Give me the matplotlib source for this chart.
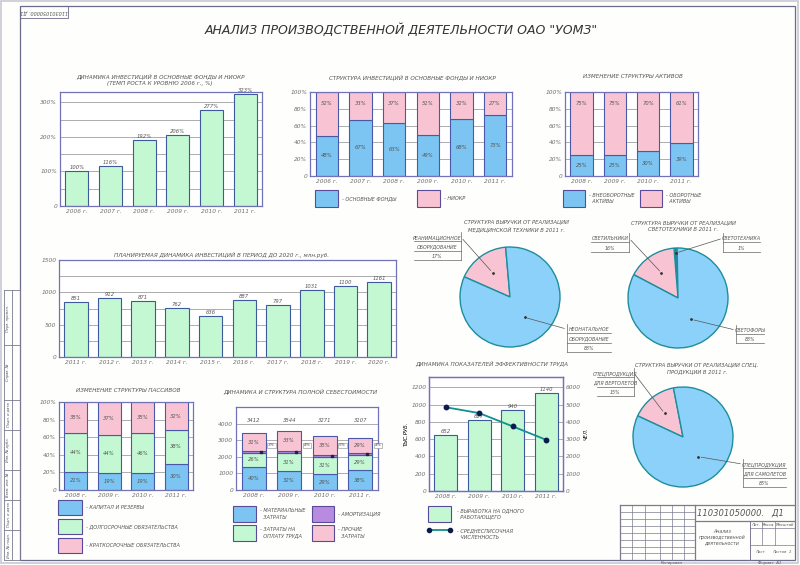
import numpy as np
import matplotlib
matplotlib.use("Agg")
import matplotlib.pyplot as plt
from matplotlib.patches import Rectangle

# ----------------------------
# Data (read from the poster)
# ----------------------------
inv_years = ['2006 г.', '2007 г.', '2008 г.', '2009 г.', '2010 г.', '2011 г.']
inv_growth = [100, 116, 192, 206, 277, 323]

fixed_share = [48, 67, 63, 49, 68, 73]
rnd_share = [52, 33, 37, 51, 32, 27]

asset_years = ['2008 г.', '2009 г.', '2010 г.', '2011 г.']
noncur_assets = [25, 25, 30, 39]
cur_assets = [75, 75, 70, 61]

plan_years = ['2011 г.', '2012 г.', '2013 г.', '2014 г.', '2015 г.',
              '2016 г.', '2017 г.', '2018 г.', '2019 г.', '2020 г.']
plan_invest = [851, 912, 871, 762, 636, 887, 797, 1031, 1100, 1161]

equity = [21, 19, 19, 30]
long_liab = [44, 44, 46, 38]
short_liab = [35, 37, 35, 32]

cost_total = [3412, 3544, 3271, 3107]
cost_mat = [40, 32, 29, 38]
cost_labor = [26, 31, 31, 29]
cost_amort = [3, 4, 5, 4]
cost_other = [31, 33, 35, 29]

output_per_worker = [652, 817, 940, 1140]
headcount = [4850, 4510, 3740, 2960]

med_labels = [['РЕАНИМАЦИОННОЕ', 'ОБОРУДОВАНИЕ'], ['НЕОНАТАЛЬНОЕ', 'ОБОРУДОВАНИЕ']]
med_share = [17, 83]
light_labels = [['СВЕТОТЕХНИКА'], ['СВЕТИЛЬНИКИ'], ['СВЕТОФОРЫ']]
light_share = [1, 16, 83]
spec_labels = [['СПЕЦПРОДУКЦИЯ', 'ДЛЯ ВЕРТОЛЕТОВ'], ['СПЕЦПРОДУКЦИЯ', 'ДЛЯ САМОЛЕТОВ']]
spec_share = [15, 85]

# ----------------------------
# Style
# ----------------------------
W, H = 800, 565
GREEN = '#c3f8d3'
BLUE = '#7cc5f2'
PINK = '#f8c4d4'
PURPLE = '#b98be0'
PIE_BLUE = '#8bd1f9'
PIE_EDGE = '#1d8e9c'
BAR_EDGE = '#3d5a9a'
SPINE = '#7272b8'
TXT = '#555555'

plt.rcParams['font.family'] = ['DejaVu Sans']
plt.rcParams['font.style'] = 'italic'
plt.rcParams['text.color'] = TXT


def box(x0, y0, x1, y1):
    return [x0 / W, 1 - y1 / H, (x1 - x0) / W, (y1 - y0) / H]


def style_axes(ax, ymax, step, label_every, fmt):
    ax.set_ylim(0, ymax)
    ticks = np.arange(0, ymax + 0.01, step)
    ax.set_yticks(ticks)
    labels = []
    for t in ticks:
        if t == 0:
            labels.append('0')
        elif round(t) % label_every == 0:
            labels.append(fmt.format(t))
        else:
            labels.append('')
    ax.set_yticklabels(labels)
    ax.grid(axis='y', color='#a0a0a0', lw=0.6)
    ax.set_axisbelow(True)
    for s in ax.spines.values():
        s.set_color(SPINE)
        s.set_linewidth(0.9)
    ax.tick_params(length=0, labelsize=4.2, colors='#707070', pad=2)


fig = plt.figure(figsize=(8, 5.65), dpi=100)
fig.patch.set_facecolor('#fefefc')

ov = fig.add_axes([0, 0, 1, 1])
ov.set_xlim(0, W)
ov.set_ylim(H, 0)
ov.axis('off')


def frame_line(x, y, lw=0.6, color='#7a7a90'):
    ov.plot(x, y, color=color, lw=lw)


def legend_box(x0, y0, x1, y1, color, text, tx=None):
    ov.add_patch(Rectangle((x0, y0), x1 - x0, y1 - y0, facecolor=color,
                           edgecolor='#5a4a9a', lw=0.8))
    if text:
        ov.text(x1 + 4 if tx is None else tx, (y0 + y1) / 2, text, fontsize=3.6,
                va='center', ha='left', linespacing=1.3)


def title(x, y, text, size=4.1):
    ov.text(x, y, text, fontsize=size, ha='center', va='center', linespacing=1.4)


# page + drawing frame
ov.add_patch(Rectangle((1, 1), 797, 562, fill=False, edgecolor='#c8c8d2', lw=1.2))
ov.add_patch(Rectangle((20, 6), 775, 554, fill=False, edgecolor='#6a6a8a', lw=0.9))
ov.add_patch(Rectangle((20, 6), 48, 12, fill=False, edgecolor='#6a6a8a', lw=0.6))
ov.text(44, 12, '110301050000. Д1', fontsize=3.6, ha='center', va='center', rotation=180)

# left stamp strip
for x in (4, 12, 20):
    frame_line([x, x], [290, 560])
for y in (290, 345, 400, 430, 470, 500, 530, 560):
    frame_line([4, 20], [y, y])
for y, s in ((318, 'Перв. примен.'), (372, 'Справ. №'), (415, 'Подп. и дата'),
             (450, 'Инв. № дубл.'), (485, 'Взам. инв. №'), (515, 'Подп. и дата'),
             (545, 'Инв. № подл.')):
    ov.text(8, y, s, fontsize=2.6, rotation=90, ha='center', va='center')

# title block
frame_line([620, 795], [505, 505], lw=0.9)
frame_line([620, 620], [505, 560], lw=0.9)
frame_line([695, 695], [505, 560], lw=0.9)
frame_line([695, 795], [521, 521], lw=0.9)
for y in (512, 519, 526, 533, 540, 547, 553):
    frame_line([620, 695], [y, y], lw=0.5)
for x in (632, 645, 660, 672, 684):
    frame_line([x, x], [505, 560], lw=0.5)
frame_line([750, 750], [521, 560], lw=0.7)
frame_line([750, 795], [528, 528], lw=0.5)
frame_line([750, 795], [545, 545], lw=0.5)
frame_line([762, 762], [521, 545], lw=0.5)
frame_line([775, 775], [521, 545], lw=0.5)
ov.text(740, 513, '110301050000.   Д1', fontsize=6, ha='center', va='center')
ov.text(722, 537, 'Анализ\nпроизводственной\nдеятельности', fontsize=3.4,
        ha='center', va='center', linespacing=1.2)
ov.text(756, 524.5, 'Лит.', fontsize=2.8, ha='center', va='center')
ov.text(768, 524.5, 'Масса', fontsize=2.8, ha='center', va='center')
ov.text(785, 524.5, 'Масштаб', fontsize=2.8, ha='center', va='center')
ov.text(760, 552, 'Лист', fontsize=2.8, ha='center', va='center')
ov.text(782, 552, 'Листов  1', fontsize=2.8, ha='center', va='center')
ov.text(672, 563, 'Копировал', fontsize=2.8, ha='center', va='center')
ov.text(770, 563, 'Формат  A1', fontsize=2.8, ha='center', va='center')

# main title
ov.text(401, 30, 'АНАЛИЗ ПРОИЗВОДСТВЕННОЙ ДЕЯТЕЛЬНОСТИ ОАО "УОМЗ"', fontsize=9,
        ha='center', va='center', color='#333333')

# ----------------------------
# 1. Investment growth
# ----------------------------
ax = fig.add_axes(box(60, 92, 262, 206))
x = np.arange(len(inv_years))
ax.bar(x, inv_growth, width=0.68, color=GREEN, edgecolor=BAR_EDGE, lw=0.8)
for xi, v in zip(x, inv_growth):
    ax.text(xi, v + 3, f'{v}%', ha='center', va='bottom', fontsize=3.8)
ax.set_xlim(-0.5, len(x) - 0.5)
ax.set_xticks(x, inv_years)
style_axes(ax, 330, 50, 100, '{:.0f}%')
title(160, 80, 'ДИНАМИКА ИНВЕСТИЦИЙ В ОСНОВНЫЕ ФОНДЫ И НИОКР\n(ТЕМП РОСТА К УРОВНЮ 2006 г., %)')

# ----------------------------
# 2. Investment structure
# ----------------------------
ax = fig.add_axes(box(310, 92, 512, 176))
ax.bar(x, fixed_share, width=0.66, color=BLUE, edgecolor='#4a58a8', lw=0.8)
ax.bar(x, rnd_share, width=0.66, bottom=fixed_share, color=PINK, edgecolor='#4a58a8', lw=0.8)
for xi, a, b in zip(x, fixed_share, rnd_share):
    ax.text(xi, a / 2, f'{a}%', ha='center', va='center', fontsize=3.8)
    ax.text(xi, 86, f'{b}%', ha='center', va='center', fontsize=3.8)
ax.set_xlim(-0.5, len(x) - 0.5)
ax.set_xticks(x, inv_years)
style_axes(ax, 100, 20, 20, '{:.0f}%')
title(412, 77, 'СТРУКТУРА ИНВЕСТИЦИЙ В ОСНОВНЫЕ ФОНДЫ И НИОКР')
legend_box(315, 190, 338, 207, BLUE, '- ОСНОВНЫЕ ФОНДЫ')
legend_box(417, 190, 440, 207, PINK, '- НИОКР')

# ----------------------------
# 3. Assets structure
# ----------------------------
ax = fig.add_axes(box(565, 92, 698, 176))
x4 = np.arange(len(asset_years))
ax.bar(x4, noncur_assets, width=0.68, color=BLUE, edgecolor='#4a58a8', lw=0.8)
ax.bar(x4, cur_assets, width=0.68, bottom=noncur_assets, color=PINK, edgecolor='#4a58a8', lw=0.8)
for xi, a, b in zip(x4, noncur_assets, cur_assets):
    ax.text(xi, a / 2, f'{a}%', ha='center', va='center', fontsize=3.8)
    ax.text(xi, 86, f'{b}%', ha='center', va='center', fontsize=3.8)
ax.set_xlim(-0.5, len(x4) - 0.5)
ax.set_xticks(x4, asset_years)
style_axes(ax, 100, 20, 20, '{:.0f}%')
title(633, 77, 'ИЗМЕНЕНИЕ СТРУКТУРЫ АКТИВОВ')
legend_box(563, 190, 585, 207, BLUE, '- ВНЕОБОРОТНЫЕ\n  АКТИВЫ')
legend_box(640, 190, 662, 207, PINK, '- ОБОРОТНЫЕ\n  АКТИВЫ')

# ----------------------------
# 4. Planned investment
# ----------------------------
ax = fig.add_axes(box(59, 260, 396, 357))
x10 = np.arange(len(plan_years))
ax.bar(x10, plan_invest, width=0.7, color=GREEN, edgecolor=BAR_EDGE, lw=0.8)
for xi, v in zip(x10, plan_invest):
    ax.text(xi, v + 15, f'{v}', ha='center', va='bottom', fontsize=3.8)
ax.set_xlim(-0.5, len(x10) - 0.5)
ax.set_xticks(x10, plan_years)
style_axes(ax, 1500, 250, 500, '{:.0f}')
title(222, 255, 'ПЛАНИРУЕМАЯ ДИНАМИКА ИНВЕСТИЦИЙ В ПЕРИОД ДО 2020 г., млн.руб.')

# ----------------------------
# 5. Liabilities structure
# ----------------------------
ax = fig.add_axes(box(59, 402, 193, 490))
lb = np.array(equity) + np.array(long_liab)
ax.bar(x4, equity, width=0.7, color=BLUE, edgecolor='#4a58a8', lw=0.8)
ax.bar(x4, long_liab, width=0.7, bottom=equity, color=GREEN, edgecolor='#4a58a8', lw=0.8)
ax.bar(x4, short_liab, width=0.7, bottom=lb, color=PINK, edgecolor='#4a58a8', lw=0.8)
for xi, a, b, c, base in zip(x4, equity, long_liab, short_liab, lb):
    ax.text(xi, a / 2, f'{a}%', ha='center', va='center', fontsize=3.8)
    ax.text(xi, a + b / 2, f'{b}%', ha='center', va='center', fontsize=3.8)
    ax.text(xi, base + c / 2, f'{c}%', ha='center', va='center', fontsize=3.8)
ax.set_xlim(-0.5, len(x4) - 0.5)
ax.set_xticks(x4, asset_years)
style_axes(ax, 100, 20, 20, '{:.0f}%')
title(128, 391, 'ИЗМЕНЕНИЕ СТРУКТУРЫ ПАССИВОВ')
legend_box(58, 500, 82, 515, BLUE, '- КАПИТАЛ И РЕЗЕРВЫ')
legend_box(58, 519, 82, 534, GREEN, '- ДОЛГОСРОЧНЫЕ ОБЯЗАТЕЛЬСТВА')
legend_box(58, 538, 82, 553, PINK, '- КРАТКОСРОЧНЫЕ ОБЯЗАТЕЛЬСТВА')

# ----------------------------
# 6. Cost structure
# ----------------------------
ax = fig.add_axes(box(236, 407, 378, 490))
tot = np.array(cost_total, dtype=float)
parts = [(cost_mat, BLUE), (cost_labor, GREEN), (cost_amort, PURPLE), (cost_other, PINK)]
bottom = np.zeros(4)
for share, col in parts:
    h = tot * np.array(share) / 100
    ax.bar(x4, h, width=0.68, bottom=bottom, color=col, edgecolor='#4a58a8', lw=0.8)
    if share is not cost_amort:
        for xi, s, b0, hh in zip(x4, share, bottom, h):
            ax.text(xi, b0 + hh / 2, f'{s}%', ha='center', va='center', fontsize=3.8)
    else:
        for xi, s, b0, hh in zip(x4, share, bottom, h):
            ax.plot(xi + 0.2, b0 + hh / 2, 's', ms=1.5, color='#222244')
            ax.text(xi + 0.5, 2700, f'{s}%', ha='center', va='center', fontsize=3.2,
                    bbox=dict(boxstyle='square,pad=0.15', fc='white', ec='#888888', lw=0.4))
    bottom += h
for xi, t in zip(x4, cost_total):
    ax.text(xi, 4180, f'{t}', ha='center', va='center', fontsize=3.8)
ax.set_xlim(-0.5, len(x4) - 0.5)
ax.set_xticks(x4, asset_years)
style_axes(ax, 5000, 1000, 1000, '{:.0f}')
ax.set_yticks([0, 1000, 2000, 3000, 4000], ['0', '1000', '2000', '3000', '4000'])
title(300, 391, 'ДИНАМИКА И СТРУКТУРА ПОЛНОЙ СЕБЕСТОИМОСТИ')
legend_box(233, 506, 256, 522, BLUE, '- МАТЕРИАЛЬНЫЕ\n  ЗАТРАТЫ')
legend_box(233, 525, 256, 541, GREEN, '- ЗАТРАТЫ НА\n  ОПЛАТУ ТРУДА')
legend_box(312, 506, 334, 522, PURPLE, '- АМОРТИЗАЦИЯ')
legend_box(312, 525, 334, 541, PINK, '- ПРОЧИЕ\n  ЗАТРАТЫ')

# ----------------------------
# 7. Labour efficiency
# ----------------------------
ax = fig.add_axes(box(429, 377, 563, 491))
ax.bar(x4, output_per_worker, width=0.7, color=GREEN, edgecolor=BAR_EDGE, lw=0.8)
for xi, v in zip(x4, output_per_worker):
    ax.text(xi, v + 12, f'{v}', ha='center', va='bottom', fontsize=3.8)
ax.set_xlim(-0.5, len(x4) - 0.5)
ax.set_xticks(x4, asset_years)
style_axes(ax, 1320, 200, 200, '{:.0f}')
ax.set_yticks(np.arange(0, 1201, 200))
ax.set_ylabel('ТЫС.РУБ.', fontsize=3.8, labelpad=2)
ax2 = ax.twinx()
ax2.plot(x4, headcount, color='#119090', lw=1.3, marker='o', ms=3.2,
         mfc='#0c1a4e', mec='#0c1a4e')
ax2.set_ylim(0, 6600)
ax2.set_yticks(np.arange(0, 6001, 1000))
ax2.tick_params(length=0, labelsize=4.2, colors='#707070', pad=2)
for s in ax2.spines.values():
    s.set_color(SPINE)
    s.set_linewidth(0.9)
ax2.set_ylabel('ЧЕЛ.', fontsize=3.8, labelpad=2)
title(492, 363, 'ДИНАМИКА ПОКАЗАТЕЛЕЙ ЭФФЕКТИВНОСТИ ТРУДА')
legend_box(428, 506, 451, 522, GREEN, '- ВЫРАБОТКА НА ОДНОГО\n  РАБОТАЮЩЕГО', tx=457)
ov.plot([429, 450], [530, 530], color='#119090', lw=1.3)
ov.plot([429, 450], [530, 530], 'o', ms=3, color='#0c1a4e')
ov.text(457, 534, '- СРЕДНЕСПИСОЧНАЯ\n  ЧИСЛЕННОСТЬ', fontsize=3.6, va='center', linespacing=1.3)

# ----------------------------
# Pie charts
# ----------------------------
def callout(ax, lines, x0, x1, y_top, side, target):
    step = 0.19
    for k, s in enumerate(lines):
        y = y_top - k * step
        ax.text((x0 + x1) / 2, y + 0.02, s, ha='center', va='bottom', fontsize=3.4)
        ax.plot([x0, x1], [y, y], color='#666666', lw=0.5, clip_on=False)
    xv = x1 if side == 'right' else x0
    ax.plot([xv, xv], [y_top + step * 0.9, y_top - (len(lines) - 1) * step],
            color='#666666', lw=0.5, clip_on=False)
    ax.annotate('', xy=target, xytext=(xv, y_top + step * 0.4),
                arrowprops=dict(arrowstyle='-', lw=0.5, color='#555555'))
    ax.plot(*target, 'o', ms=1, color='#333333')


def wedge_point(w, frac):
    th = np.deg2rad((w.theta1 + w.theta2) / 2)
    return (frac * np.cos(th), frac * np.sin(th))


def pie_axes(cx, cy, r, shares, colors, start):
    ax = fig.add_axes(box(cx - r, cy - r, cx + r, cy + r))
    wedges, _ = ax.pie(shares, colors=colors, startangle=start, counterclock=True,
                       radius=1, wedgeprops=dict(edgecolor=PIE_EDGE, lw=1.0))
    ax.set_xlim(-1.02, 1.02)
    ax.set_ylim(-1.02, 1.02)
    return ax, wedges


ax, wd = pie_axes(510, 297, 51, med_share, [PINK, PIE_BLUE], 95)
callout(ax, med_labels[0] + [f'{med_share[0]}%'], -1.92, -0.98, 1.12, 'right', wedge_point(wd[0], 0.6))
callout(ax, med_labels[1] + [f'{med_share[1]}%'], 1.14, 2.02, -0.72, 'left', wedge_point(wd[1], 0.5))
title(516, 226, 'СТРУКТУРА ВЫРУЧКИ ОТ РЕАЛИЗАЦИИ\nМЕДИЦИНСКОЙ ТЕХНИКИ В 2011 г.', size=3.8)

ax, wd = pie_axes(678, 298, 51, light_share, ['#2f7fb0', PINK, PIE_BLUE], 91)
callout(ax, light_labels[0] + [f'{light_share[0]}%'], 0.9, 1.65, 1.12, 'left', wedge_point(wd[0], 0.9))
callout(ax, light_labels[1] + [f'{light_share[1]}%'], -1.75, -0.98, 1.12, 'right', wedge_point(wd[1], 0.6))
callout(ax, light_labels[2] + [f'{light_share[2]}%'], 1.16, 1.72, -0.72, 'left', wedge_point(wd[2], 0.5))
title(683, 226, 'СТРУКТУРА ВЫРУЧКИ ОТ РЕАЛИЗАЦИИ\nСВЕТОТЕХНИКИ В 2011 г.', size=3.8)

ax, wd = pie_axes(683, 437, 51, spec_share, [PINK, PIE_BLUE], 101)
callout(ax, spec_labels[0] + [f'{spec_share[0]}%'], -1.72, -0.98, 1.2, 'right', wedge_point(wd[0], 0.6))
callout(ax, spec_labels[1] + [f'{spec_share[1]}%'], 1.2, 2.06, -0.62, 'left', wedge_point(wd[1], 0.5))
title(697, 368, 'СТРУКТУРА ВЫРУЧКИ ОТ РЕАЛИЗАЦИИ СПЕЦ.\nПРОДУКЦИИ В 2011 г.', size=3.8)

fig.savefig('out.png', dpi=100, facecolor=fig.get_facecolor())
